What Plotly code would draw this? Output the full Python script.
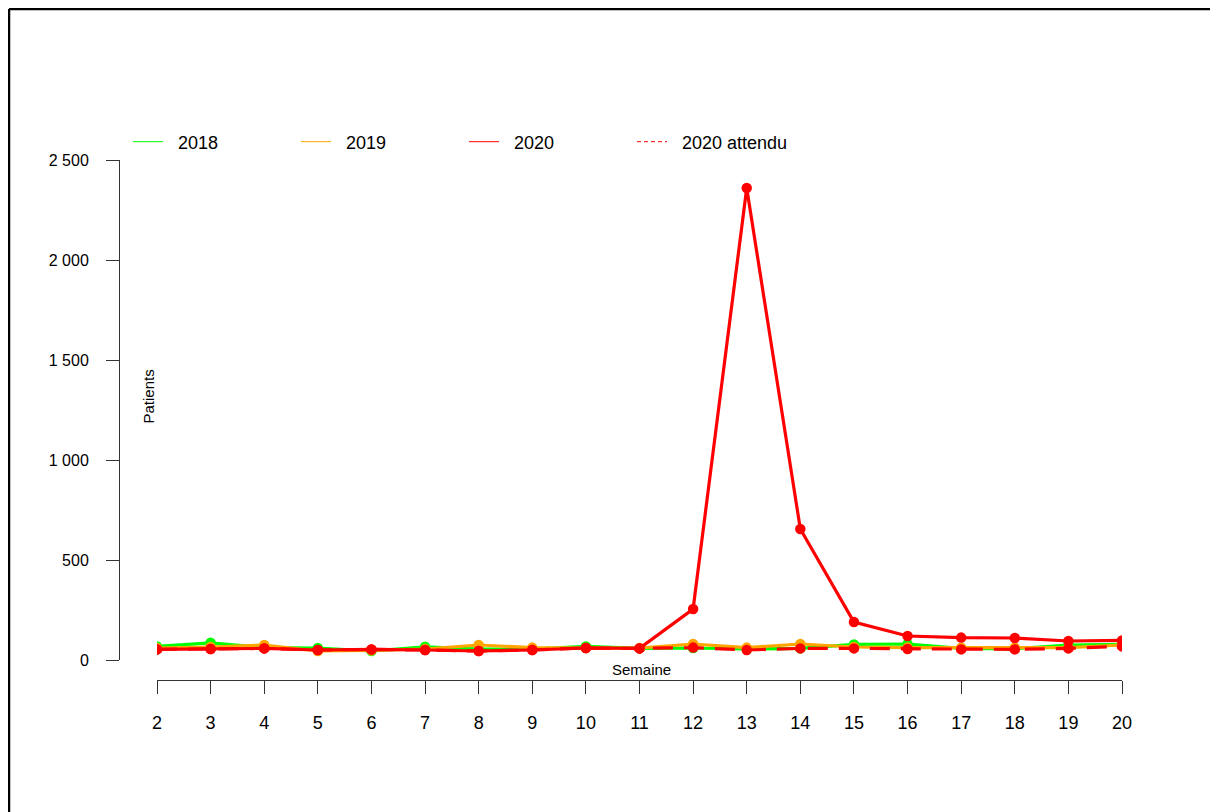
import plotly.graph_objects as go

# Semaines et nombre de patients
semaines = list(range(2, 21))
patients_2018 = [68, 86, 62, 60, 45, 66, 55, 55, 68, 58, 60, 55, 58, 78, 80, 58, 56, 75, 78]
patients_2019 = [60, 65, 75, 45, 48, 55, 75, 62, 60, 60, 80, 62, 80, 65, 62, 62, 62, 62, 75]
patients_2020 = [53, 55, 58, 50, 53, 50, 45, 50, 60, 58, 255, 2360, 655, 190, 120, 112, 110, 95, 98]
attendu_2020 = [53, 55, 58, 50, 53, 50, 45, 50, 60, 58, 62, 50, 58, 58, 55, 53, 53, 58, 68]

y_ticks = [0, 500, 1000, 1500, 2000, 2500]
y_tick_labels = ["0", "500", "1 000", "1 500", "2 000", "2 500"]

VERT = "#00ff00"
ORANGE = "#ffa500"
ROUGE = "#ff0000"
FONT = "Liberation Sans, Arial, sans-serif"

# dimensions en pixels (la page ajoute une marge de 8 px)
W, H = 1202, 812
L, R, T, B = 111, 70, 152, 140
pw, ph = W - L - R, H - T - B

fig = go.Figure()

series = [
    (patients_2018, VERT, "solid"),
    (patients_2019, ORANGE, "solid"),
    (attendu_2020, ROUGE, "20px,11px"),
    (patients_2020, ROUGE, "solid"),
]
for vals, col, dash in series:
    fig.add_trace(go.Scatter(
        x=semaines, y=vals, mode="lines+markers",
        line=dict(color=col, width=3.2, dash=dash),
        marker=dict(color=col, size=10.5),
        showlegend=False, hoverinfo="x+y",
    ))

# entrées de légende (traits fins)
pad = "\u00a0\u00a0"
for name, col, dash in [("2018", VERT, "solid"), ("2019", ORANGE, "solid"),
                        ("2020", ROUGE, "solid"), ("2020 attendu", ROUGE, "4px,3px")]:
    fig.add_trace(go.Scatter(
        x=[None], y=[None], mode="lines", name=pad + name,
        line=dict(color=col, width=1, dash=dash),
    ))

# cadre : seulement les bords gauche et haut sont visibles
x_bord = (1 - L) / pw
y_bord = (672 - 1) / ph

fig.update_layout(
    width=W, height=H,
    margin=dict(l=L, r=R, t=T, b=B, pad=0),
    paper_bgcolor="white", plot_bgcolor="white",
    font=dict(family=FONT, size=15, color="black"),
    xaxis=dict(
        domain=[(149 - L) / pw, (1114 - L) / pw],
        range=[2, 20], anchor="free", position=0,
        tickvals=semaines, ticks="outside", ticklen=13, tickcolor="#333",
        showline=True, linecolor="#333", linewidth=1,
        showgrid=False, zeroline=False, ticklabelstandoff=13,
        tickfont=dict(size=18),
    ),
    yaxis=dict(
        domain=[(672 - 652) / ph, 1],
        range=[0, 2500], anchor="free", position=0,
        tickvals=y_ticks, ticktext=y_tick_labels,
        ticks="outside", ticklen=13, tickcolor="#333",
        showline=True, linecolor="#333", linewidth=1,
        showgrid=False, zeroline=False, ticklabelstandoff=14,
        tickfont=dict(size=16),
    ),
    legend=dict(
        orientation="h", x=(120 - L) / pw, xanchor="left",
        y=(672 - 134) / ph, yanchor="middle",
        font=dict(size=18), entrywidth=123, entrywidthmode="pixels",
        bgcolor="rgba(0,0,0,0)",
    ),
    annotations=[
        dict(text="Patients", xref="paper", yref="paper",
             x=(129 - L) / pw, y=(672 - 389) / ph, textangle=-90,
             showarrow=False, font=dict(size=15)),
        dict(text="Semaine", xref="paper", yref="paper",
             x=(633 - L) / pw, y=(672 - 661) / ph, yanchor="middle",
             showarrow=False, font=dict(size=15)),
    ],
    shapes=[
        dict(type="line", xref="paper", yref="paper",
             x0=x_bord, x1=x_bord, y0=-B / ph, y1=y_bord,
             line=dict(color="black", width=2.5), layer="below"),
        dict(type="line", xref="paper", yref="paper",
             x0=x_bord, x1=(W - L) / pw, y0=y_bord, y1=y_bord,
             line=dict(color="black", width=2.5), layer="below"),
    ],
)

fig.write_html("out.html")
